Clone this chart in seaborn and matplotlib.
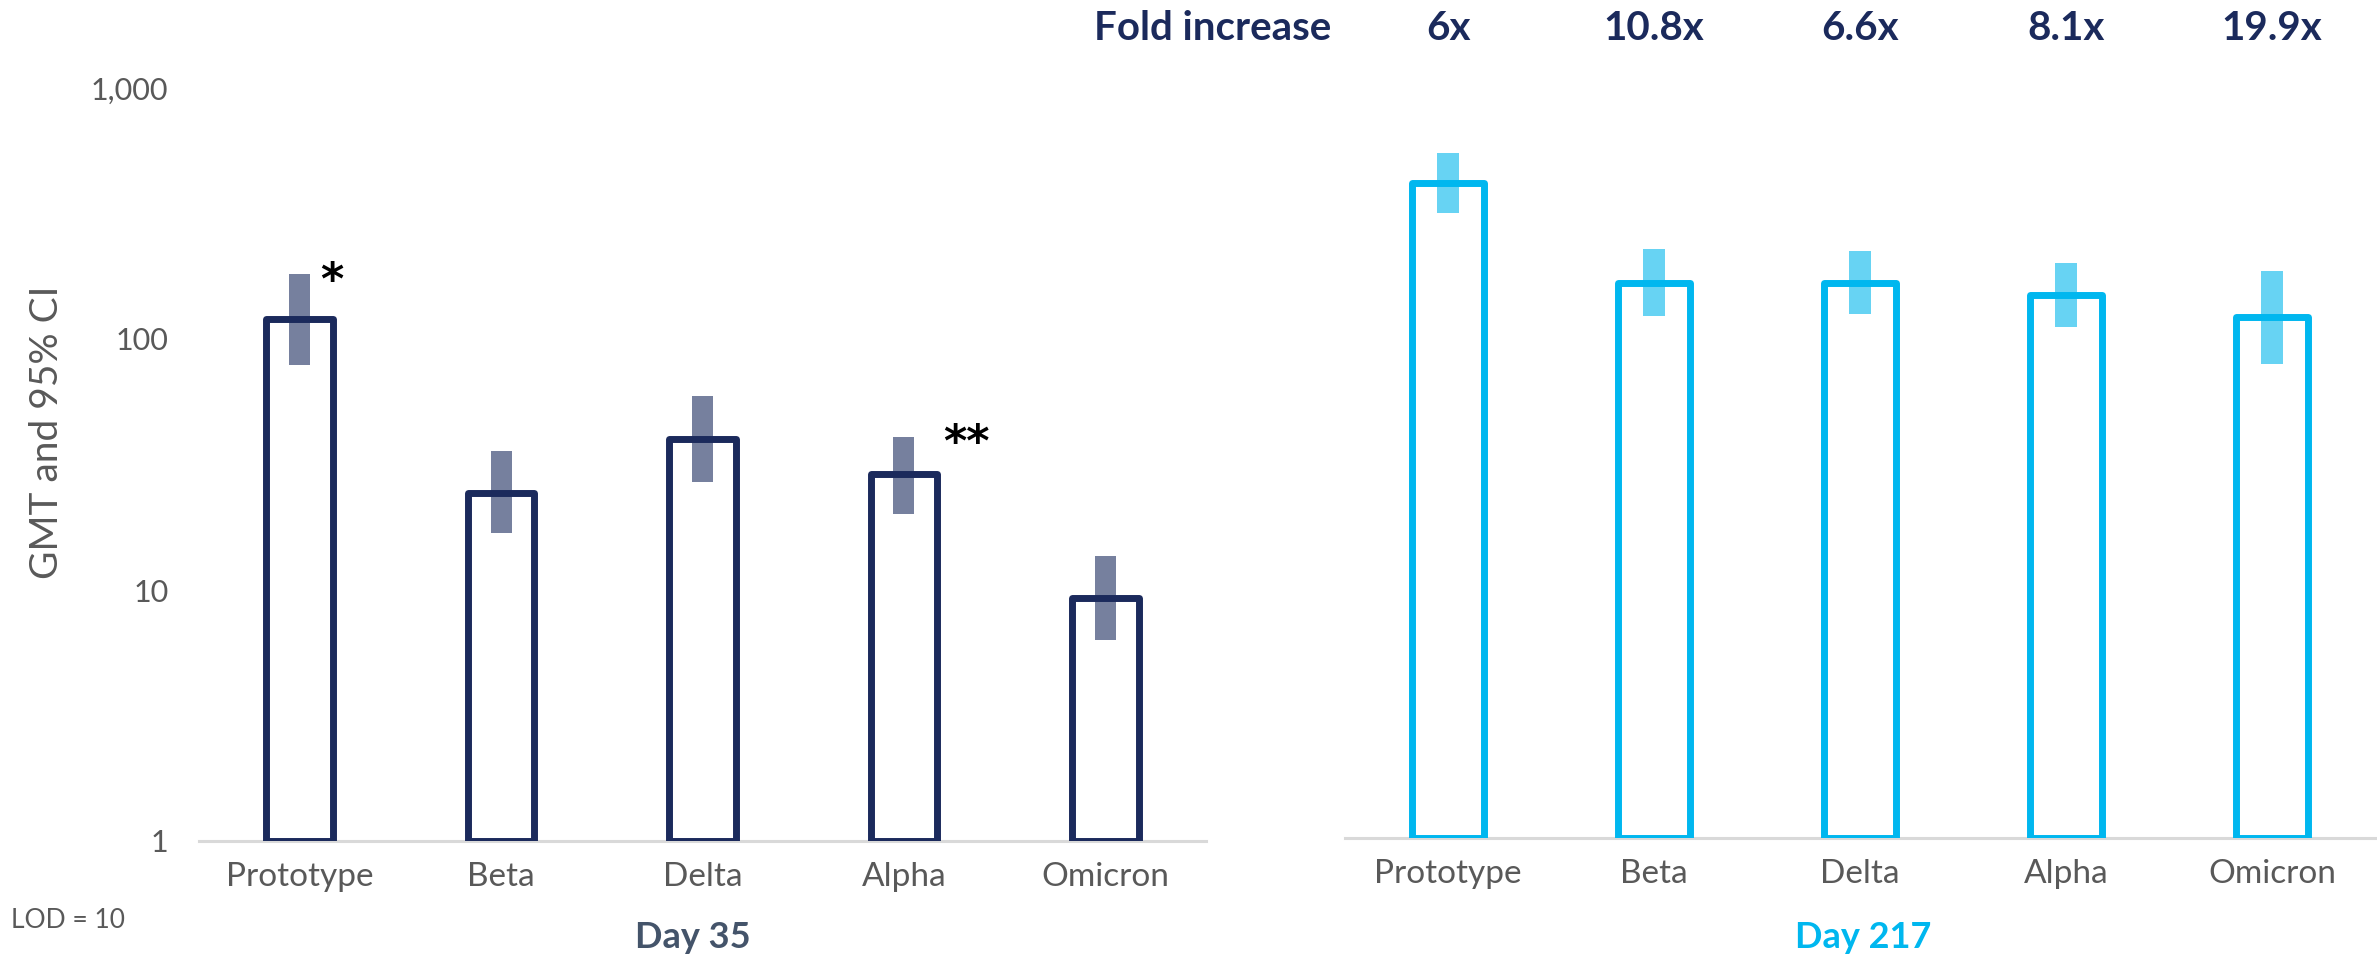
import matplotlib
matplotlib.use("Agg")
import matplotlib.pyplot as plt
import matplotlib.transforms as mtransforms
import seaborn as sns

# Neutralising antibody GMTs with 95% CI by variant
variants = ["Prototype", "Beta", "Delta", "Alpha", "Omicron"]
gmt_day35 = [120, 24.4, 40, 29, 9.3]
ci_low_day35 = [79, 16.8, 27, 20.1, 6.3]
ci_high_day35 = [181, 35.9, 59.3, 40.8, 13.7]
gmt_day217 = [402, 161, 161, 144, 118]
ci_low_day217 = [306, 119, 121, 108, 76.7]
ci_high_day217 = [529, 220, 216, 193, 180]
fold_increase = ["6x", "10.8x", "6.6x", "8.1x", "19.9x"]
y_ticks = [1, 10, 100, 1000]
y_tick_labels = ["1", "10", "100", "1,000"]
significance = {0: "*", 3: "**"}

NAVY = "#1b2a5c"
NAVY_CI = "#76809e"
CYAN = "#00b7ef"
CYAN_CI = "#67d3f3"
TICK_GREY = "#595959"
SLATE = "#44546a"
FONT = ["Lato", "DejaVu Sans"]

sns.set_theme(style="white")
plt.rcParams["font.family"] = FONT

W, H = 2377, 959
fig = plt.figure(figsize=(W / 100, H / 100), dpi=100)
ax_l = fig.add_axes([199 / W, 1 - 841 / H, (1206 - 199) / W, (841 - 88) / H])
ax_r = fig.add_axes([1345 / W, 1 - 838 / H, (2375 - 1345) / W, (838 - 83.5) / H])


def draw_panel(ax, gmt, lo, hi, edge, ci_color, bar_width, ci_width):
    sns.barplot(x=variants, y=gmt, order=variants, ax=ax, fill=False,
                color=edge, width=bar_width, log_scale=True, errorbar=None,
                linewidth=5, joinstyle="round")
    # bars start at the axis floor (1) so their bottom edge stays visible
    for p in ax.patches:
        top = p.get_y() + p.get_height()
        p.set_y(1)
        p.set_height(top - 1)
        p.set_edgecolor(edge)
        p.set_zorder(2)
    heights = [h - l for h, l in zip(hi, lo)]
    ax.bar(range(len(variants)), heights, bottom=lo, width=ci_width,
           color=ci_color, zorder=1, linewidth=0)
    ax.set_ylim(1, 1000)
    ax.set_xlim(-0.5, len(variants) - 0.5)
    ax.set_xlabel("")
    ax.set_ylabel("")
    for side in ("left", "top", "right"):
        ax.spines[side].set_visible(False)
    ax.spines["bottom"].set_color("#d9d9d9")
    ax.spines["bottom"].set_linewidth(2.2)
    ax.spines["bottom"].set_zorder(0.5)
    ax.minorticks_off()
    ax.tick_params(axis="x", length=0, pad=15, labelsize=24, labelcolor=TICK_GREY)
    ax.tick_params(axis="y", which="both", length=0)


draw_panel(ax_l, gmt_day35, ci_low_day35, ci_high_day35, NAVY, NAVY_CI, 0.33, 0.104)
draw_panel(ax_r, gmt_day217, ci_low_day217, ci_high_day217, CYAN, CYAN_CI, 0.345, 0.106)

ax_l.set_yticks(y_ticks)
ax_l.set_yticklabels(y_tick_labels, fontsize=22, color=TICK_GREY)
ax_l.tick_params(axis="y", pad=22)
ax_r.set_yticks([])
ax_r.yaxis.set_visible(False)

# significance markers beside the upper CI limits
offsets = {0: 0.16, 3: 0.31}
for i, mark in significance.items():
    ax_l.annotate(mark, (i + offsets[i], ci_high_day35[i]), xytext=(0, -5),
                  textcoords="offset points", ha="center", va="center",
                  fontsize=32, fontweight="bold", color="black",
                  family=["DejaVu Sans"])

# fold increase row above the Day 217 panel
tr = mtransforms.blended_transform_factory(ax_r.transData, fig.transFigure)
for i, txt in enumerate(fold_increase):
    ax_r.text(i, 1 - 28 / H, txt, transform=tr, ha="center", va="center",
              fontsize=29, fontweight="bold", color=NAVY)
fig.text(1331 / W, 1 - 28 / H, "Fold increase", ha="right", va="center",
         fontsize=29, fontweight="bold", color=NAVY)

fig.text(47 / W, 1 - 432 / H, "GMT and 95% CI", rotation=90, ha="center",
         va="center", fontsize=28, color=TICK_GREY)
fig.text(693 / W, 1 - 938 / H, "Day 35", ha="center", va="center",
         fontsize=26, fontweight="bold", color=SLATE)
fig.text(1863 / W, 1 - 938 / H, "Day 217", ha="center", va="center",
         fontsize=26, fontweight="bold", color=CYAN)
fig.text(11 / W, 1 - 920 / H, "LOD = 10", ha="left", va="center",
         fontsize=19, color=TICK_GREY)

fig.savefig("out.png", dpi=100, facecolor="white")
